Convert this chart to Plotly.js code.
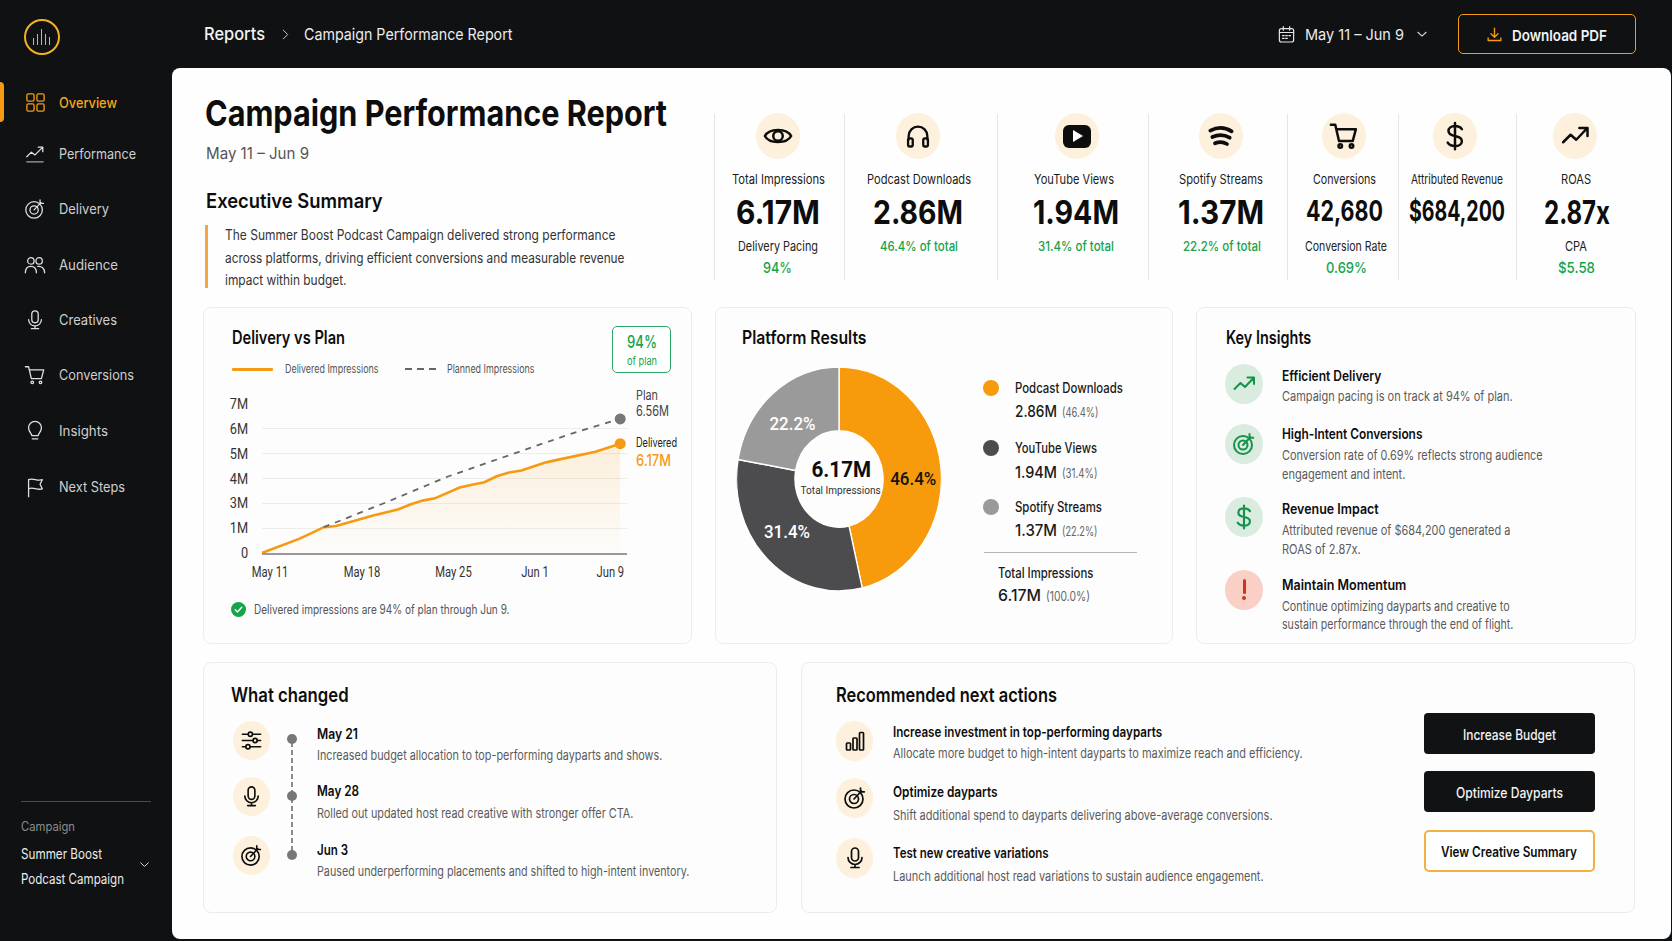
<!DOCTYPE html>
<html><head><meta charset="utf-8">
<script src="https://cdn.plot.ly/plotly-3.0.1.min.js"></script>
<style>
html,body{margin:0;padding:0;width:1672px;height:941px;overflow:hidden;background:#0f1113;font-family:Inter,sans-serif}
#root{position:absolute;left:0;top:0;width:1672px;height:941px;overflow:hidden}
.box{position:absolute;box-sizing:border-box}
.t{position:absolute;white-space:nowrap;line-height:1;transform-origin:left center}
svg.i{position:absolute;overflow:visible}
#line,#donut{position:absolute}
</style></head><body><div id="root">
<div id="line"></div><div id="donut"></div>
</div>
<script>
// ---------- chart data ----------
const days = [0,1,2,3,4,5,6,7,8,9,10,11,12,13,14,15,16,17,18,19,20,21,22,23,24,25,26,27,28,29];
// heights are in axis steps: the axis is drawn with seven evenly spaced ticks
const delivered = [0,0.19,0.40,0.57,0.80,1.04,1.09,1.23,1.39,1.51,1.63,1.75,1.95,2.11,2.20,2.43,2.64,2.75,2.85,3.09,3.24,3.32,3.47,3.65,3.76,3.87,3.97,4.08,4.24,4.40];
const planDays = [5,10,15,20,25,29];
const planned = [1.04,2.03,3.07,3.93,4.80,5.40];
const yTickSteps = [0,1,2,3,4,5,6];
const yTickLabels = ['0','1M','3M','4M','5M','6M','7M'];
const xTickDays = [0.65,8.1,15.5,22.1,28.2];
const xTickLabels = ['May 11','May 18','May 25','Jun 1','Jun 9'];
const platforms = ['Podcast Downloads','YouTube Views','Spotify Streams'];
const platformValues = [2.86,1.94,1.37];
const platformColors = ['#f79a0b','#4c4c4e','#9a9a9a'];

const ORANGE='#f59a12', GREEN='#16a34a', INK='#0d0d0d', MID='#555555';
const root=document.getElementById('root');
function box(x0,y0,x1,y1,css){const d=document.createElement('div');d.className='box';
  d.style.cssText=`left:${x0}px;top:${y0}px;width:${x1-x0}px;height:${y1-y0}px;${css}`;root.insertBefore(d,document.getElementById('line'));return d;}
function t(s,x0,x1,y,size,wt,color,family){const d=document.createElement('div');d.className='t';d.textContent=s;
  d.style.cssText=`left:${x0}px;top:${y-size/2}px;font-size:${size}px;font-weight:${wt};color:${color};${family?'font-family:'+family+';':''}`;
  root.appendChild(d);const w=d.getBoundingClientRect().width;d.style.transform=`scaleX(${(x1-x0)/w})`;return d;}
function tc(s,cx,w,y,size,wt,color){return t(s,cx-w/2,cx+w/2,y,size,wt,color);}
function circ(cx,cy,rx,ry,c){box(cx-rx,cy-ry,cx+rx,cy+ry,`background:${c};border-radius:50%`);}
const ICONS={
 grid:'<rect x="3" y="3" width="7.5" height="7.5" rx="1.5"/><rect x="13.5" y="3" width="7.5" height="7.5" rx="1.5"/><rect x="3" y="13.5" width="7.5" height="7.5" rx="1.5"/><rect x="13.5" y="13.5" width="7.5" height="7.5" rx="1.5"/>',
 perf:'<path d="M3 15l5-5 4 3 8-8M15.5 4.5H20.5V9.5"/><path d="M3 20.5h18" opacity=".7"/>',
 trend:'<path d="M2.5 17l6-6 4.5 4 8.5-9M15.5 5.5h6.5v6.5"/>',
 target:'<circle cx="11" cy="13" r="9"/><circle cx="11" cy="13" r="4.5"/><path d="M11 13l7.5-8M17.5 2v3.8h3.8"/>',
 users:'<circle cx="7.5" cy="7.5" r="3.5"/><circle cx="16.5" cy="7.5" r="3.5"/><path d="M1.5 20.5c0-4.5 2.5-7 6-7s6 2.5 6 7"/><path d="M15 13.6c4.300-.6 7.500 2 7.500 6.900"/>',
 mic:'<rect x="8.500" y="2" width="7" height="13" rx="3.500"/><path d="M5 11.500a7 7 0 0 0 14 0M12 18.500v3M8 21.500h8"/>',
 cart:'<path d="M1.500 3h3.500l3 13h11l2.500-9.500H6"/><circle cx="9" cy="20" r="1.400"/><circle cx="18" cy="20" r="1.400"/>',
 bulb:'<path d="M8.500 17c0-2-3.500-4-3.500-8.500a7 7 0 0 1 14 0C19 13 15.500 15 15.500 17z"/><path d="M9 20.500h6"/>',
 flag:'<path d="M5 22.500V4c5-2.500 9 2 15 0l-2.500 5 2.500 5c-6 2-10-2.500-15 0"/>',
 eye:'<path d="M1.500 12C5 5.500 19 5.500 22.500 12 19 18.500 5 18.500 1.500 12z"/><circle cx="12" cy="12" r="3.800"/>',
 phones:'<path d="M4 15v-3a8 8 0 0 1 16 0v3"/><rect x="3.500" y="14" width="4" height="7" rx="1.500"/><rect x="16.500" y="14" width="4" height="7" rx="1.500"/>',
 spotify:'<path d="M4 8c5-2.600 11-2.600 16 .5M5.500 12.800c4-1.800 9-1.800 13 .5M7.500 17.500c2.800-1.200 6.200-1.200 9 .5"/>',
 dollar:'<path d="M12 1.500v21M17.500 6.500C16.500 5 14.500 4 12 4 8.800 4 6.800 5.700 6.800 8s2 3.400 5.200 4 5.500 1.800 5.500 4.100S15 20 12 20c-2.800 0-4.800-1-5.800-2.700"/>',
 sliders:'<path d="M2.500 5.500h6M13 5.500h8.500M2.500 12h11M18 12h3.500M2.500 18.500h3.500M10.500 18.500h11"/><circle cx="10.800" cy="5.500" r="2.200"/><circle cx="15.800" cy="12" r="2.200"/><circle cx="8.300" cy="18.500" r="2.200"/>',
 bars:'<rect x="3.500" y="14" width="4" height="7" rx=".8"/><rect x="10" y="9" width="4" height="12" rx=".8"/><rect x="16.500" y="3.500" width="4" height="17.500" rx=".8"/>',
 cal:'<rect x="3" y="4.500" width="18" height="17" rx="2.500"/><path d="M3 9.500h18M8 2v4.500M16 2v4.500M7 13.500h2M11 13.500h2M15 13.500h2M7 17h2M11 17h2"/>',
 dl:'<path d="M12 3v12.500M7 11l5 5 5-5M3 17v3.500h18V17"/>',
 down:'<path d="M5 9l7 6.500L19 9"/>',
 right:'<path d="M8 4l8 8-8 8"/>',
 check:'<path d="M6 12.500l4 4 8-8.500"/>'
};
function ic(n,cx,cy,sz,color,sw){const s=document.createElementNS('http://www.w3.org/2000/svg','svg');s.setAttribute('class','i');
  s.setAttribute('viewBox','0 0 24 24');s.setAttribute('width',sz);s.setAttribute('height',sz);
  s.style.cssText=`left:${cx-sz/2}px;top:${cy-sz/2}px`;s.innerHTML=`<g fill="none" stroke="${color}" stroke-width="${sw||1.6}" stroke-linecap="round" stroke-linejoin="round">${ICONS[n]}</g>`;root.appendChild(s);}

// ---------- page chrome ----------
box(172,68,1671,939,'background:#fefefe;border-radius:8px 8px 8px 8px');
// logo
box(23.5,19,59.5,55,`border:2.6px solid #f3b21f;border-radius:50%`);
[[-8,7],[-4,11],[0,16],[4,11],[8,8]].forEach(b=>box(41.5+b[0]-.8,44.5-b[1],41.5+b[0]+.8,44.5,'background:#f3b21f'));
t('Reports',204,265,34.2,17,500,'#f4f4f4');
ic('right',285,34,13,'#cccccc',1.8);
t('Campaign Performance Report',303.6,512,34.2,16,400,'#ececec');
ic('cal',1286,34,19,'#e6e6e6',1.5);
t('May 11 – Jun 9',1305,1404,34.5,15,400,'#ececec');
ic('down',1422,34,14,'#dddddd',1.8);
box(1457.6,14,1636,54,`border:1.5px solid ${ORANGE};border-radius:5px`);
ic('dl',1494,34,17,ORANGE,1.9);
t('Download PDF',1512,1607,35,15,600,'#f4f4f4');
// sidebar
box(0,82,4,122,`background:${ORANGE};border-radius:0 4px 4px 0`);
[['grid','Overview',116.5,102],['perf','Performance',135.5,153.5],['target','Delivery',108.5,208.5],['users','Audience',117.5,264.5],
 ['mic','Creatives',116.5,319.5],['cart','Conversions',133.5,375],['bulb','Insights',107.5,430.5],['flag','Next Steps',124.5,486.5]].forEach((r,i)=>{
  ic(r[0],35,r[3],i==0?23:22,i==0?ORANGE:'#e0e0e0',1.4);t(r[1],58.5,r[2],r[3]+(i==0?1:0),14,i==0?500:400,i==0?'#f5a818':'#cfcfcf');});
box(21,801,151,802,'background:#4a4a4a');
t('Campaign',21,75,827,12.5,400,'#8d8d8d');
t('Summer Boost',21,102,854,14,400,'#ededed');
t('Podcast Campaign',21,124,878.5,14,400,'#ededed');
ic('down',144,864,13,'#dddddd',1.8);
// heading
t('Campaign Performance Report',205,667,113.5,35.5,700,INK);
t('May 11 – Jun 9',205.5,308.5,152.5,16,400,'#555');
t('Executive Summary',206,382.6,201,20,600,INK);
box(205.4,225,208.2,288,'background:#f2a93b');
t('The Summer Boost Podcast Campaign delivered strong performance',224.5,615,235.2,14,400,'#333');
t('across platforms, driving efficient conversions and measurable revenue',224.5,624,258,14,400,'#333');
t('impact within budget.',224.5,346,280,14,400,'#333');
// KPI strip
[713.600,843.8,996.8,1148.2,1287,1398,1515.8].forEach(x=>box(x,114,x+1,280,'background:#e6e6e6'));
// centre of column icon, label, big value, sub label, green line
const kpis=[
 [[778,778,777.5,778,777.5],'eye',30,'Total Impressions',93,'6.17M',84,33,212,'Delivery Pacing',80,0,'94%',29],
 [[918,919,918,919,918],'phones',28,'Podcast Downloads',104,'2.86M',90,33,212,'46.4% of total',78,1],
 [[1077,1074,1075.7,1076,1075.7],'yt',30,'YouTube Views',80,'1.94M',86,33,212,'31.4% of total',76,1],
 [[1220.5,1220.8,1220.8,1222,1220.8],'spotify',32,'Spotify Streams',84,'1.37M',86,33,212,'22.2% of total',78,1],
 [[1344,1344.8,1344.8,1345.8,1346.5],'cart',30,'Conversions',63,'42,680',77,28,211,'Conversion Rate',82,0,'0.69%',41],
 [[1454.5,1457,1457,0,0],'dollar',30,'Attributed Revenue',92,'$684,200',96,28,211],
 [[1575,1576,1577,1576,1576],'trend',30,'ROAS',30,'2.87x',66,33,212,'CPA',22,0,'$5.58',37]];
kpis.forEach(k=>{const c=k[0];circ(c[0],136,22,22.8,'#fdf0dc');
 if(k[1]=='yt'){box(c[0]-14,136-11.500,c[0]+14,136+11.500,'background:#0d0d0d;border-radius:6px');
   const s=document.createElement('div');s.className='box';s.style.cssText=`left:${c[0]-4}px;top:130px;width:0;height:0;border-left:10px solid #fff;border-top:6px solid transparent;border-bottom:6px solid transparent`;root.appendChild(s);}
 else ic(k[1],c[0],136,k[2],INK,k[1]=='spotify'?2.8:2);
 tc(k[3],c[1],k[4],179,13,400,'#1a1a1a');tc(k[5],c[2],k[6],k[8],k[7],700,INK);
 if(k[9]){tc(k[9],c[3],k[10],246.7,13.5,k[11]?500:400,k[11]?GREEN:'#222');}
 if(k[12]){tc(k[12],c[4],k[13],267.5,15,500,GREEN);}
});
// cards
const cardCss='background:#fdfdfd;border:1px solid #ececec;border-radius:8px';
box(203,307,692,644,cardCss);box(715,307,1172.5,644,cardCss);box(1196,307,1636,644,cardCss);box(203,662,776.5,913,cardCss);box(801,662,1635,913,cardCss);
// delivery card
t('Delivery vs Plan',232,345,338,18,600,INK);
box(232,367.5,273,370.5,`background:${ORANGE};border-radius:1px`);
t('Delivered Impressions',284.5,378,370,11.5,400,MID);
[405,417,429].forEach(x=>box(x,368,x+7,369.5,'background:#666'));
t('Planned Impressions',446.5,534,370,11.5,400,MID);
box(612,326,671,373,'border:1.5px solid #2aa866;border-radius:5px;background:#fff');
tc('94%',642,30,342,17,500,GREEN);tc('of plan',642,30,361,11,400,GREEN);
circ(238,609,7.500,7.500,GREEN);ic('check',238,609,13,'#fff',2.6);
t('Delivered impressions are 94% of plan through Jun 9.',253.5,509,610,12.5,400,MID);
// platform card
t('Platform Results',742,866.5,338,18,600,INK);
[[388,411,'2.86M','(46.4%)',1123,1098],[448,472,'1.94M','(31.4%)',1097,1097],[507,530,'1.37M','(22.2%)',1102,1097]].forEach((r,i)=>{
 circ(991,r[0],8,8,platformColors[i]);t(platforms[i],1015,r[4],r[0],14,500,'#1a1a1a');
 t(r[2],1015,1057,r[1],16,500,'#1a1a1a');t(r[3],1061.5,r[5],r[1]+1.5,13,400,'#666');});
box(984,551.5,1137,552.5,'background:#b5b5b5');
t('Total Impressions',997.7,1093,573,14,500,'#1a1a1a');
t('6.17M',998,1041,595,16,500,'#1a1a1a');t('(100.0%)',1046,1090,596,13,400,'#666');
// key insights
t('Key Insights',1225.7,1311,338,18,600,INK);
[[384,'trend'],[444,'target'],[517,'dollar']].forEach(r=>{circ(1244.3,r[0],19,20,'#d9ecdf');ic(r[1],1244.3,r[0],r[1]=='dollar'?26:24,'#16924a',2);});
circ(1244.3,590,19,20,'#f9cfc6');box(1242.800,579,1245.800,594,'background:#d0341c;border-radius:2px');circ(1244.3,598,2,2,'#d0341c');
[['Efficient Delivery',1381.7,375.7,1],['Campaign pacing is on track at 94% of plan.',1513,396.7,0],
 ['High-Intent Conversions',1422.7,434,1],['Conversion rate of 0.69% reflects strong audience',1543,455.7,0],['engagement and intent.',1405.7,474,0],
 ['Revenue Impact',1379,509,1],['Attributed revenue of $684,200 generated a',1510.7,530.7,0],['ROAS of 2.87x.',1361,549,0],
 ['Maintain Momentum',1406.7,585,1],['Continue optimizing dayparts and creative to',1510,606,0],['sustain performance through the end of flight.',1513.7,624.3,0]
].forEach(r=>t(r[0],1282.3,r[1],r[2],r[3]?14:13,r[3]?600:400,r[3]?INK:'#5a5a5a'));
// what changed
t('What changed',231.4,349,695,20,600,INK);
box(291,742,292.500,852,'background:repeating-linear-gradient(to bottom,#8a8a8a 0 5px,transparent 5px 8px)');
[['sliders',740.7,739,'May 21',357.7,734,'Increased budget allocation to top-performing dayparts and shows.',662,755],
 ['mic',796.7,796,'May 28',358.8,791,'Rolled out updated host read creative with stronger offer CTA.',633,813],
 ['target',855,854.7,'Jun 3',347.7,850,'Paused underperforming placements and shifted to high-intent inventory.',689,871.7]].forEach(r=>{
 circ(251.7,r[1],18.5,19.5,'#fdf0dc');ic(r[0],251.7,r[1],23,INK,1.7);circ(291.8,r[2],5,5,'#777');
 t(r[3],316.7,r[4],r[5],14,600,INK);t(r[6],316.7,r[7],r[8],13,400,'#5a5a5a');});
// recommended
t('Recommended next actions',836,1057,695,20,600,INK);
[['bars',740.7,'Increase investment in top-performing dayparts',1162.6,732,'Allocate more budget to high-intent dayparts to maximize reach and efficiency.',1303,753],
 ['target',798,'Optimize dayparts',998,792,'Shift additional spend to dayparts delivering above-average conversions.',1273,815],
 ['mic',858,'Test new creative variations',1049,853,'Launch additional host read variations to sustain audience engagement.',1264,876]].forEach(r=>{
 circ(854.5,r[1],18.5,20,'#fdf0dc');ic(r[0],854.5,r[1],24,INK,1.7);
 t(r[2],893.4,r[3],r[4],14,600,INK);t(r[5],893.4,r[6],r[7],13,400,'#5a5a5a');});
box(1424,712.7,1594.5,754,'background:#111214;border-radius:4px');
box(1424,771,1594.5,812,'background:#111214;border-radius:4px');
box(1424,830,1594.5,871.7,`background:#fff;border:2px solid #f4b040;border-radius:5px`);
tc('Increase Budget',1509.5,93,734.5,14,500,'#f4f4f4');tc('Optimize Dayparts',1509.5,107,793,14,500,'#f4f4f4');tc('View Creative Summary',1509,136,851.5,14,600,INK);

// ---------- Plotly: delivery line chart ----------
const L=document.getElementById('line');L.style.cssText='left:203px;top:380px;width:488px;height:220px';
Plotly.newPlot(L,[
 {x:days,y:delivered,mode:'lines',line:{color:ORANGE,width:2.6,shape:'linear'},fill:'tozeroy',
  fillgradient:{type:'vertical',colorscale:[[0,'rgba(245,154,18,0.01)'],[1,'rgba(245,154,18,0.15)']]},name:'Delivered Impressions',hoverinfo:'skip'},
 {x:planDays,y:planned,mode:'lines',line:{color:'#666666',width:1.8,dash:'6px,6px'},name:'Planned Impressions',hoverinfo:'skip'},
 {x:[planDays[planDays.length-1]],y:[planned[planned.length-1]],mode:'markers',marker:{color:'#777777',size:11},cliponaxis:false,hoverinfo:'skip'},
 {x:[days[days.length-1]],y:[delivered[delivered.length-1]],mode:'markers',marker:{color:ORANGE,size:11},cliponaxis:false,hoverinfo:'skip'}
],{
 width:488,height:220,showlegend:false,paper_bgcolor:'rgba(0,0,0,0)',plot_bgcolor:'rgba(0,0,0,0)',
 margin:{l:58.7,r:64.3,t:24,b:46.5},
 font:{family:'Roboto, sans-serif'},
 xaxis:{range:[0,29.55],tickmode:'array',tickvals:xTickDays,ticktext:xTickLabels,showgrid:false,zeroline:false,showline:true,linecolor:'#999999',linewidth:1.5,
   ticks:'outside',ticklen:6,tickcolor:'rgba(0,0,0,0)',tickfont:{size:14,color:'#333333'},fixedrange:true},
 yaxis:{range:[0,6],tickmode:'array',tickvals:yTickSteps,ticktext:yTickLabels,showgrid:true,gridcolor:'#ececec',gridwidth:1,zeroline:false,showline:false,
   ticks:'outside',ticklen:10,tickcolor:'rgba(0,0,0,0)',tickfont:{size:14.5,color:'#333333'},fixedrange:true}
},{displayModeBar:false,staticPlot:true}).then(()=>{
  // the reference's tick labels are set narrower than the installed faces
  L.querySelectorAll('.xtick text').forEach(e=>{e.setAttribute('textLength',e.getComputedTextLength()*0.8);e.setAttribute('lengthAdjust','spacingAndGlyphs');});
  L.querySelectorAll('.ytick text').forEach(e=>{e.setAttribute('textLength',e.getComputedTextLength()*0.88);e.setAttribute('lengthAdjust','spacingAndGlyphs');});
});
t('Plan',636,658,396,13.5,400,'#444');
t('6.56M',636,669,411,14,400,'#444');
t('Delivered',636,677,443,12.5,400,'#222');
t('6.17M',636,671,460,16,500,ORANGE);

// ---------- Plotly: platform donut ----------
const total=platformValues.reduce((a,b)=>a+b,0);
const pctText=platformValues.map(v=>(100*v/total).toFixed(1)+'%');
const D=document.getElementById('donut');D.style.cssText='left:727px;top:367px;width:224px;height:224px;transform:scaleX(0.915);transform-origin:center';
const ann=(text,x,y,font)=>({xref:'paper',yref:'paper',x:x,y:y,xanchor:'center',yanchor:'middle',showarrow:false,text:text,font:font});
Plotly.newPlot(D,[{type:'pie',labels:platforms,values:platformValues,hole:0.43,sort:false,direction:'clockwise',rotation:0,
  marker:{colors:platformColors,line:{color:'#ffffff',width:1.5}},textinfo:'none',hoverinfo:'skip',showlegend:false}],
 {width:224,height:224,margin:{l:0,r:0,t:0,b:0},paper_bgcolor:'rgba(0,0,0,0)',font:{family:'Roboto, sans-serif'},showlegend:false,
  annotations:[
   ann(pctText[0],.861,.5,{size:18.5,weight:500,color:'#141414'}),
   ann(pctText[1],.246,.263,{size:18.5,weight:500,color:'#ffffff'}),
   ann(pctText[2],.271,.746,{size:18.5,weight:500,color:'#ffffff'}),
   ann('6.17M',.51,.545,{size:22.5,weight:700,color:INK}),
   ann('Total Impressions',.51,.45,{size:11,color:'#333333'})
  ]},{displayModeBar:false,staticPlot:true});
</script></body></html>
